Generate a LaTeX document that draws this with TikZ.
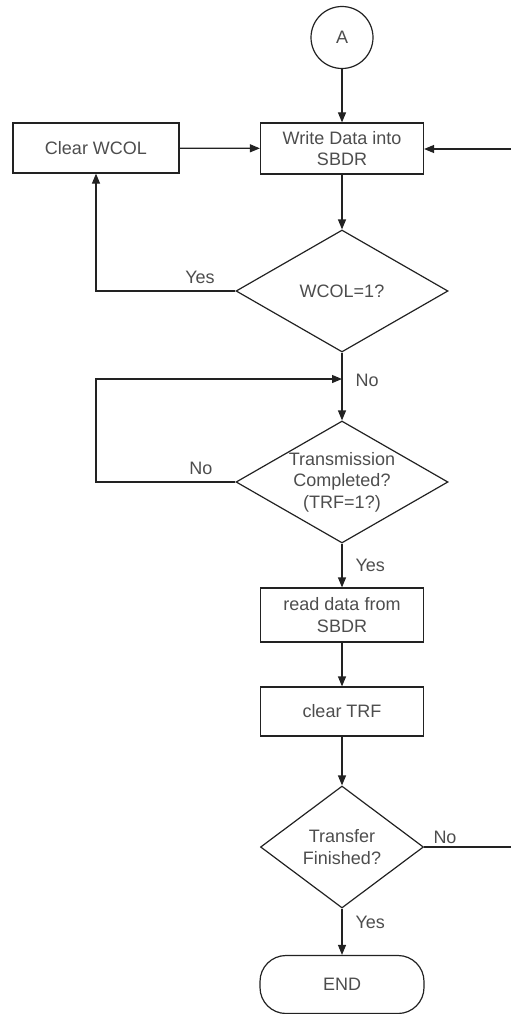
\documentclass[tikz,border=0pt]{standalone}
\usepackage{fontspec}
\setmainfont{Liberation Sans}
\usetikzlibrary{shapes.geometric,positioning,arrows.meta}

\definecolor{txtgray}{HTML}{4D4D4D}
\definecolor{linegray}{HTML}{222222}

\tikzset{
  txt/.style={text=txtgray, font=\fontsize{18}{21.6}\selectfont, align=center},
  procbox/.style={draw=linegray, line width=1.2pt, rectangle, inner sep=0pt, txt},
  decision/.style={draw=linegray, line width=1.2pt, diamond, inner sep=0pt},
  flow/.style={draw=linegray, line width=1.2pt, -{Triangle[length=10pt,width=8pt]}},
  plain/.style={draw=linegray, line width=1.2pt}
}

\begin{document}
\begin{tikzpicture}[x=1pt, y=-1pt]
  \useasboundingbox (0,0) rectangle (511,1014);

  % Connector and end
  \node[draw=linegray, line width=1.2pt, circle, minimum size=62pt, inner sep=0pt, txt] (conA) at (342,37.5) {A};
  \node[procbox, minimum width=164pt, minimum height=58pt, rounded corners=26pt] (endbox) at (342,984.5) {END};

  % Process boxes
  \node[procbox, minimum width=163pt, minimum height=51pt] (write) at (342,148.5) {Write Data into\\SBDR};
  \node[procbox, minimum width=166pt, minimum height=50pt] (clrwcol) at (96,148) {Clear WCOL};
  \node[procbox, minimum width=163pt, minimum height=54pt] (read) at (342,615) {read data from\\SBDR};
  \node[procbox, minimum width=163pt, minimum height=49pt] (clrtrf) at (342,711.5) {clear TRF};

  % Decisions
  \node[decision, minimum width=212pt, minimum height=122pt,
        label={[txt]center:WCOL=1?}] (wcol) at (342,291) {};
  \node[decision, minimum width=212pt, minimum height=122pt,
        label={[txt]center:Transmission\\Completed?\\(TRF=1?)}] (trans) at (342,482) {};
  \node[decision, minimum width=163pt, minimum height=122pt,
        label={[txt]center:Transfer\\Finished?}] (fin) at (342,847) {};

  % Helper points
  \coordinate (rin) at (511,149);
  \coordinate (rout) at (511,847);
  \coordinate (jn) at (342,379);
  \coordinate (lp) at (96,379);

  % Top part
  \draw[flow] (conA) -- (write);
  \draw[flow] (clrwcol) -- (write);
  \draw[flow] (rin) -- (write.east |- rin);
  \draw[flow] (write) -- (wcol.north);
  \draw[flow] (wcol.west) -| (clrwcol.south);
  \node[txt] (yes1) at (200,277) {Yes};

  % Transmission loop
  \draw[plain] (wcol.south) -- (jn);
  \draw[flow] (jn) -- (trans.north);
  \draw[flow] (trans.west) -| (lp) -- (jn);
  \node[txt, anchor=west] (no1) at (352,380) {No};
  \node[txt] (no2) at (201,468) {No};

  % Lower part
  \draw[flow] (trans.south) -- (read);
  \node[txt, anchor=west] (yes2) at (352,565) {Yes};
  \draw[flow] (read) -- (clrtrf);
  \draw[flow] (clrtrf) -- (fin.north);
  \draw[plain] (fin.east) -- (rout);
  \node[txt] (no3) at (445,837) {No};
  \draw[flow] (fin.south) -- (endbox);
  \node[txt, anchor=west] (yes3) at (352,922) {Yes};
\end{tikzpicture}
\end{document}
